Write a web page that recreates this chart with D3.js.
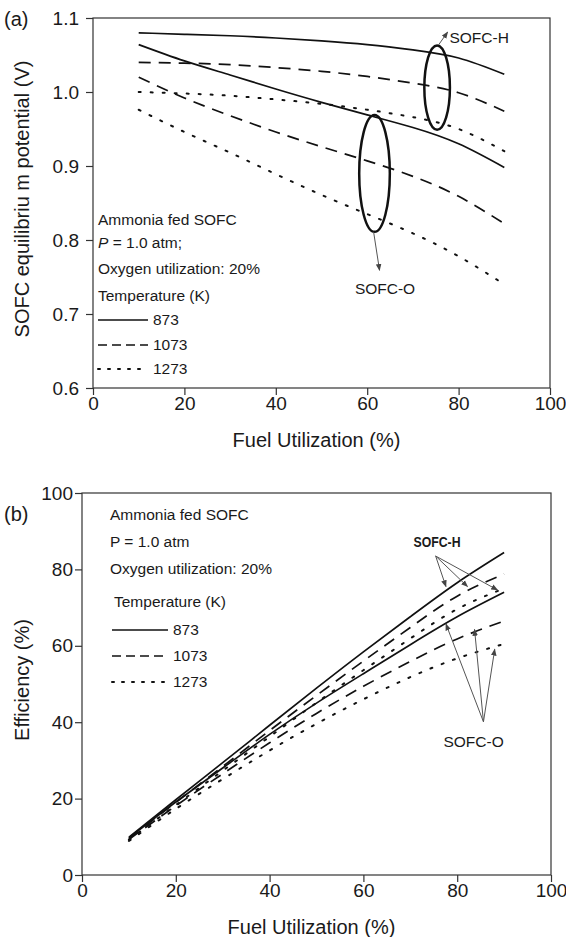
<!DOCTYPE html>
<html>
<head>
<meta charset="utf-8">
<script src="https://cdn.jsdelivr.net/npm/d3@7"></script>
<style>
body { margin: 0; background: #fff; }
text { font-family: "Liberation Sans", Arial, sans-serif; fill: #1a1a1a; }
</style>
</head>
<body>
<script>
// fuel utilization (%) for every curve
let fuelUtil = [10, 20, 30, 40, 50, 60, 70, 80, 90];
let temps = ["873", "1073", "1273"];

// (a) SOFC equilibrium potential (V)
let potH873 = [1.080, 1.078, 1.076, 1.073, 1.069, 1.064, 1.057, 1.046, 1.024];
let potH1073 = [1.040, 1.039, 1.037, 1.033, 1.028, 1.021, 1.012, 0.999, 0.974];
let potH1273 = [1.000, 0.998, 0.995, 0.990, 0.984, 0.976, 0.966, 0.950, 0.920];
let potO873 = [1.064, 1.042, 1.023, 1.004, 0.986, 0.969, 0.952, 0.930, 0.898];
let potO1073 = [1.020, 0.992, 0.968, 0.946, 0.926, 0.907, 0.886, 0.859, 0.822];
let potO1273 = [0.976, 0.946, 0.918, 0.889, 0.861, 0.835, 0.809, 0.778, 0.740];

// (b) efficiency (%)
let effH873 = [9.9, 19.7, 29.4, 39.2, 48.9, 58.4, 67.6, 76.5, 84.4];
let effH1073 = [9.5, 19.0, 28.4, 37.8, 47.0, 56.0, 64.8, 73.0, 78.8];
let effH1273 = [9.2, 18.3, 27.3, 36.2, 45.1, 53.6, 61.9, 69.6, 75.0];
let effO873 = [9.7, 19.1, 28.0, 36.8, 45.0, 52.7, 60.3, 67.6, 74.0];
let effO1073 = [9.3, 18.1, 26.5, 34.6, 42.3, 49.4, 55.9, 61.8, 66.5];
let effO1273 = [8.9, 17.3, 25.1, 32.6, 39.6, 46.0, 51.8, 56.7, 60.5];

// tick values
let xTicks = [0, 20, 40, 60, 80, 100];
let potTicks = [0.6, 0.7, 0.8, 0.9, 1.0, 1.1];
let effTicks = [0, 20, 40, 60, 80, 100];

let dashes = [null, "12,8", "2,10"]; //873 solid, 1073 dashed, 1273 dotted
let legendDashes = [null, "9,5", "2,8"];
let font = "'Liberation Sans', Arial, sans-serif";

let svg = d3.select("body").append("svg")
	.attr("width", 566)
	.attr("height", 937);

//arrow head for the pointers
svg.append("defs").append("marker")
	.attr("id", "head")
	.attr("viewBox", "0 0 10 10")
	.attr("refX", 9).attr("refY", 5)
	.attr("markerWidth", 7).attr("markerHeight", 7)
	.attr("markerUnits", "userSpaceOnUse")
	.attr("orient", "auto")
	.append("path")
	.attr("d", "M0,1 L10,5 L0,9 Z")
	.attr("fill", "#444");

//draws the axes and the frame of one panel
function frame(x, y, yTicks, yFmt, yPad, yTitle, tag, tagY) {
	let g = svg.append("g");

	g.append("rect")
		.attr("x", x.range()[0]).attr("y", y.range()[1])
		.attr("width", x.range()[1] - x.range()[0])
		.attr("height", y.range()[0] - y.range()[1])
		.attr("fill", "none").attr("stroke", "#333").attr("stroke-width", 1.2);

	let xG = g.append("g")
		.attr("transform", `translate(0, ${y.range()[0]})`)
		.call(d3.axisBottom(x).tickValues(xTicks).tickSize(7).tickPadding(2));
	let yG = g.append("g")
		.attr("transform", `translate(${x.range()[0]}, 0)`)
		.call(d3.axisLeft(y).tickValues(yTicks).tickFormat(yFmt).tickSize(7).tickPadding(yPad));

	[xG, yG].forEach(a => {
		a.select(".domain").remove();
		a.selectAll("line").attr("stroke", "#333").attr("stroke-width", 1.2);
		a.selectAll("text").attr("font-size", 19).attr("font-family", font).attr("fill", "#1a1a1a");
	});

	g.append("text") //x axis title
		.attr("x", (x.range()[0] + x.range()[1]) / 2 - 5)
		.attr("y", y.range()[0] + 59)
		.attr("text-anchor", "middle")
		.attr("font-size", 20)
		.text("Fuel Utilization (%)");

	g.append("text") //y axis title
		.attr("transform", `translate(22, ${(y.range()[0] + y.range()[1]) / 2 - 4}) rotate(-90)`)
		.attr("text-anchor", "middle")
		.attr("dy", "0.35em")
		.attr("font-size", 20)
		.text(yTitle);

	g.append("text") //panel tag
		.attr("x", 4).attr("y", tagY)
		.attr("font-size", 20)
		.text(tag);
}

//draws the six curves of one panel
function curves(x, y, sets) {
	let line = d3.line()
		.x((d, i) => x(fuelUtil[i]))
		.y(d => y(d))
		.curve(d3.curveNatural);

	sets.forEach((s, i) => {
		svg.append("path")
			.datum(s)
			.attr("fill", "none")
			.attr("stroke", "#111")
			.attr("stroke-width", i % 3 == 2 ? 2 : 1.7)
			.attr("stroke-dasharray", dashes[i % 3])
			.attr("stroke-linecap", i % 3 == 2 ? "round" : "butt")
			.attr("d", line);
	});
}

//legend block: text lines then the three line samples
function legend(x0, rows, lines, sampleX, sampleW) {
	rows.forEach(r => {
		let t = svg.append("text")
			.attr("x", r.x || x0).attr("y", r.y)
			.attr("dy", "0.35em")
			.attr("font-size", 15.5);
		if (r.italic) {
			t.append("tspan").attr("font-style", "italic").text(r.italic);
		}
		t.append("tspan").text(r.text);
	});

	lines.forEach((ly, i) => {
		svg.append("line")
			.attr("x1", sampleX).attr("x2", sampleX + sampleW)
			.attr("y1", ly).attr("y2", ly)
			.attr("stroke", "#111")
			.attr("stroke-width", i == 2 ? 2 : 1.7)
			.attr("stroke-dasharray", legendDashes[i])
			.attr("stroke-linecap", i == 2 ? "round" : "butt");
		svg.append("text")
			.attr("x", sampleX + sampleW + 5).attr("y", ly)
			.attr("dy", "0.35em")
			.attr("font-size", 15.5)
			.text(temps[i]);
	});
}

function arrow(x, y, from, to) {
	svg.append("line")
		.attr("x1", x(from[0])).attr("y1", y(from[1]))
		.attr("x2", x(to[0])).attr("y2", y(to[1]))
		.attr("stroke", "#555").attr("stroke-width", 1)
		.attr("marker-end", "url(#head)");
}

/*

	PANEL (a)

*/

let xA = d3.scaleLinear().domain([0, 100]).range([93, 550]);
let yA = d3.scaleLinear().domain([0.6, 1.1]).range([388, 18]);

frame(xA, yA, potTicks, d3.format(".1f"), 7, "SOFC equilibriu m potential (V)", "(a)", 26);
curves(xA, yA, [potH873, potH1073, potH1273, potO873, potO1073, potO1273]);

legend(98, [
	{ y: 220, text: "Ammonia fed SOFC" },
	{ y: 243, italic: "P", text: " = 1.0 atm;" },
	{ y: 269, text: "Oxygen utilization: 20%" },
	{ y: 296, text: "Temperature (K)" }
], [320, 345, 369], 98, 50);

//ellipses grouping the SOFC-H and SOFC-O curves
[[75.3, 1.006, 2.8, 0.057], [61.6, 0.890, 3.35, 0.079]].forEach(e => {
	svg.append("ellipse")
		.attr("cx", xA(e[0])).attr("cy", yA(e[1]))
		.attr("rx", xA(e[2]) - xA(0)).attr("ry", yA(0) - yA(e[3]))
		.attr("fill", "none").attr("stroke", "#111").attr("stroke-width", 2.5);
});

arrow(xA, yA, [75.6, 1.0635], [77.6, 1.081]);
arrow(xA, yA, [61.4, 0.811], [62.7, 0.759]);

svg.append("text")
	.attr("x", xA(78)).attr("y", yA(1.073))
	.attr("dy", "0.35em").attr("font-size", 15.5)
	.text("SOFC-H");
svg.append("text")
	.attr("x", xA(63.9)).attr("y", yA(0.735))
	.attr("dy", "0.35em").attr("text-anchor", "middle").attr("font-size", 15.5)
	.text("SOFC-O");

/*

	PANEL (b)

*/

let xB = d3.scaleLinear().domain([0, 100]).range([82, 551]);
let yB = d3.scaleLinear().domain([0, 100]).range([875, 493]);

frame(xB, yB, effTicks, d3.format("d"), 2, "Efficiency (%)", "(b)", 521);
curves(xB, yB, [effH873, effH1073, effH1273, effO873, effO1073, effO1273]);

legend(110, [
	{ y: 515, text: "Ammonia fed SOFC" },
	{ y: 542, text: "P = 1.0 atm" },
	{ y: 569, text: "Oxygen utilization: 20%" },
	{ y: 602, x: 114, text: "Temperature (K)" }
], [630, 656, 682], 112, 56);

//pointers from the labels to the curves
arrow(xB, yB, [75.4, 83.5], [77.6, 75.5]);
arrow(xB, yB, [75.4, 83.5], [82.2, 75.5]);
arrow(xB, yB, [75.4, 83.5], [88.6, 74.6]);
arrow(xB, yB, [85.6, 40.1], [77.6, 65.7]);
arrow(xB, yB, [85.6, 40.1], [83.7, 64.3]);
arrow(xB, yB, [85.6, 40.1], [88.0, 59.1]);

svg.append("text")
	.attr("x", xB(75.7)).attr("y", yB(87.2))
	.attr("dy", "0.35em").attr("text-anchor", "middle")
	.attr("font-size", 15).attr("font-weight", "bold")
	.attr("textLength", 47).attr("lengthAdjust", "spacingAndGlyphs")
	.text("SOFC-H");
svg.append("text")
	.attr("x", xB(83.5)).attr("y", yB(34.8))
	.attr("dy", "0.35em").attr("text-anchor", "middle").attr("font-size", 15.5)
	.text("SOFC-O");
</script>
</body>
</html>
